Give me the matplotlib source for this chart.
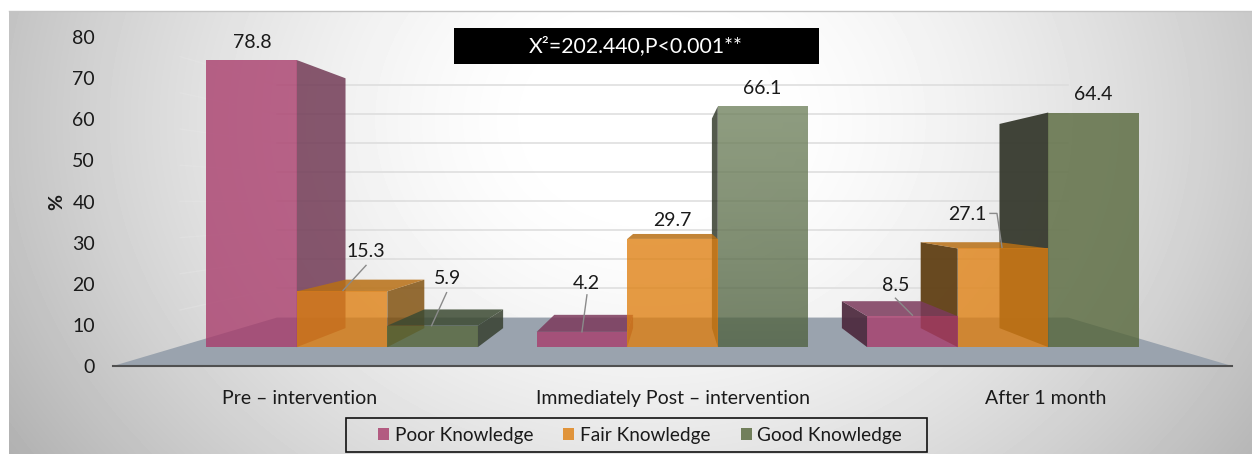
import numpy as np
import matplotlib
matplotlib.use("Agg")
import matplotlib.pyplot as plt
from matplotlib.colors import to_rgb
from matplotlib.patches import Polygon, Patch, Rectangle

plt.rcParams["font.family"] = ["Lato", "DejaVu Sans"]

categories = ["Pre – intervention", "Immediately Post – intervention", "After 1 month"]
series_names = ["Poor Knowledge", "Fair Knowledge", "Good Knowledge"]
poor = [78.8, 4.2, 8.5]
fair = [15.3, 29.7, 27.1]
good = [5.9, 66.1, 64.4]
y_ticks = [0, 10, 20, 30, 40, 50, 60, 70, 80]
stat_text = "X²=202.440,P<0.001**"

W, H = 1252, 454
COLORS = ["#a83a6a", "#df7f10", "#546538"]
# wall colours per group, the third group sits in stronger shadow
SIDE = [["#6e3450", "#7f4e0a", "#323c2a"],
        ["#6e3450", "#7f4e0a", "#2e3626"],
        ["#4d2a3e", "#5e3c10", "#33362a"]]
SIDE_ALPHA = [0.82, 0.82, 0.93]
TOP = ["#7c3a5c", "#b86f14", "#3c4a32"]
FRONT_ALPHA = 0.78

# perspective set-up: depth scale factors toward the vanishing point
VX, VY = 1.0, 40.2
S_FRONT, S_BACK = 0.886, 0.771
S_WALL = 0.707
BAR_W = 0.274


def proj(x, v, s):
    return VX + (x - VX) * s, VY + (v - VY) * s


fig = plt.figure(figsize=(W / 100, H / 100), dpi=100, facecolor="white")

# backdrop with a radial shade
bg = fig.add_axes([0, 0, 1, 1], zorder=0)
bg.axis("off")
yy, xx = np.mgrid[11:H, 9:W]
r = np.sqrt(((xx - 650) / 640.0) ** 2 + ((yy - 120) / 520.0) ** 2)
shade = np.clip(1.0 - 0.29 * np.clip(r - 0.15, 0, None) ** 1.5, 0, 1)
bg.imshow(shade, extent=(9, W, H, 11), cmap="gray", vmin=0, vmax=1,
          aspect="auto", interpolation="bilinear")
bg.set_xlim(0, W)
bg.set_ylim(H, 0)
bg.plot([9, W], [11, 11], color="#c4c4c4", lw=1)

ax = fig.add_axes([113 / W, 1 - 366 / H, (1232 - 113) / W, (366 - 37) / H], zorder=1)
ax.patch.set_visible(False)
for name in ["top", "left", "right"]:
    ax.spines[name].set_visible(False)
ax.spines["bottom"].set_color("#505050")
ax.spines["bottom"].set_linewidth(1.5)
ax.set_xticks(range(3), categories, fontsize=14, color="#1a1a1a")
ax.set_yticks(y_ticks, [str(t) for t in y_ticks], fontsize=14, color="#1a1a1a")
ax.tick_params(length=0)
ax.tick_params(axis="x", pad=17)
ax.tick_params(axis="y", pad=13)
ax.set_ylabel("%", fontsize=14, fontweight="bold", color="#1a1a1a", labelpad=5)

# floor
xl, xr = -0.5, 2.5
ax.add_patch(Polygon([proj(xl, 0, 1), proj(xr, 0, 1), proj(xr, 0, S_WALL), proj(xl, 0, S_WALL)],
                     closed=True, fc="#9aa3ae", ec="none", zorder=1))

# gridlines on the back wall and the fading left wall
for t in y_ticks[1:]:
    ax.plot(*zip(proj(xl, t, S_WALL), proj(xr, t, S_WALL)), color="#dcdcdc", lw=1.1, zorder=1)
    ax.plot(*zip(proj(xl, t, 0.88), proj(xl, t, S_WALL)), color="#e8e8e8", lw=1.0, alpha=0.35, zorder=1)


def poly(points, fc, alpha, z):
    patch = Polygon(points, closed=True, fc=fc, ec="none", alpha=alpha, zorder=z)
    ax.add_patch(patch)
    return patch


values = [poor, fair, good]
for g in range(3):
    for k in range(3):
        v = values[k][g]
        x0 = g + (k - 1.5) * BAR_W
        x1 = x0 + BAR_W
        # only the wall facing the vanishing point can be seen
        sx = None
        if x1 < VX:
            sx = x1
        elif x0 > VX:
            sx = x0
        if sx is not None:
            poly([proj(sx, 0, S_FRONT), proj(sx, v, S_FRONT), proj(sx, v, S_BACK), proj(sx, 0, S_BACK)],
                 SIDE[g][k], SIDE_ALPHA[g], 3)
        # the lid shows only on bars below eye level
        if v < VY:
            poly([proj(x0, v, S_FRONT), proj(x1, v, S_FRONT), proj(x1, v, S_BACK), proj(x0, v, S_BACK)],
                 TOP[k], 0.85, 3.5)

for g in range(3):
    for k in range(3):
        v = values[k][g]
        x0 = g + (k - 1.5) * BAR_W
        x1 = x0 + BAR_W
        corners = [proj(x0, 0, S_FRONT), proj(x1, 0, S_FRONT), proj(x1, v, S_FRONT), proj(x0, v, S_FRONT)]
        if (k, g) == (2, 1):
            # tallest green bar brightens toward its top
            mask = poly(corners, "none", None, 4)
            top_c, bottom_c = np.array(to_rgb("#6f815c")), np.array(to_rgb("#4f613f"))
            ramp = np.linspace(0, 1, 128)[:, None, None]
            rgba = np.dstack([(top_c * (1 - ramp) + bottom_c * ramp), np.full((128, 1), FRONT_ALPHA)])
            im = ax.imshow(rgba, extent=(corners[0][0], corners[1][0], corners[0][1], corners[2][1]),
                           aspect="auto", interpolation="bilinear", zorder=4)
            im.set_clip_path(mask)
        else:
            poly(corners, COLORS[k], FRONT_ALPHA, 4)

ax.set_xlim(-0.5, 2.5)
ax.set_ylim(0, 80)

# value labels: offsets in pixels from the front top centre of each bar
label_offsets = {
    (0, 0): (1, 18), (1, 0): (24, 40), (2, 0): (15, 47),
    (0, 1): (4, 48), (1, 1): (0, 18), (2, 1): (-1, 18),
    (0, 2): (-17, 31), (1, 2): (-36, 34), (2, 2): (0, 18),
}
leaders = {
    (1, 0): [(1, 1), (24, 26)],
    (2, 0): [(-1, 0), (14, 33)],
    (0, 1): [(0, 0), (5, 37)],
    (0, 2): [(0, 1), (-17, 18)],
    (1, 2): [(-1, 1), (-6, 35), (-13, 35)],
}
fig.canvas.draw()
for (k, g), (dx, dy) in label_offsets.items():
    v = values[k][g]
    xc = g + (k - 1) * BAR_W
    tip = proj(xc, v, S_FRONT)
    ax.annotate(str(v), xy=tip, xytext=(dx, dy), textcoords="offset pixels",
                ha="center", va="center", fontsize=14, color="#1a1a1a", zorder=8)
    if (k, g) in leaders:
        pts = ax.transData.transform([tip]) + np.array(leaders[(k, g)])
        line = ax.transData.inverted().transform(pts)
        ax.plot(line[:, 0], line[:, 1], color="#8a8a8a", lw=1, zorder=7)

# statistic banner
bg.add_patch(Rectangle((454, 28), 365, 36, fc="black", ec="none", zorder=5))
bg.text(636, 46, stat_text, color="white", fontsize=15.3, ha="center", va="center", zorder=6)

# legend entries inside a wider hand-set frame
bg.add_patch(Rectangle((346, 418), 581, 34, fc="none", ec="#111111", lw=1.2, zorder=5))
handles = [Patch(fc=c, alpha=0.8, ec="none") for c in COLORS]
leg = ax.legend(handles, series_names, ncol=3, loc="center",
                bbox_to_anchor=(640 / W, 1 - 435 / H), bbox_transform=fig.transFigure,
                fontsize=13.7, frameon=False,
                handlelength=0.58, handleheight=0.58, handletextpad=0.3, columnspacing=1.58,
                labelcolor="#1a1a1a")

fig.savefig("out.png", dpi=100)
